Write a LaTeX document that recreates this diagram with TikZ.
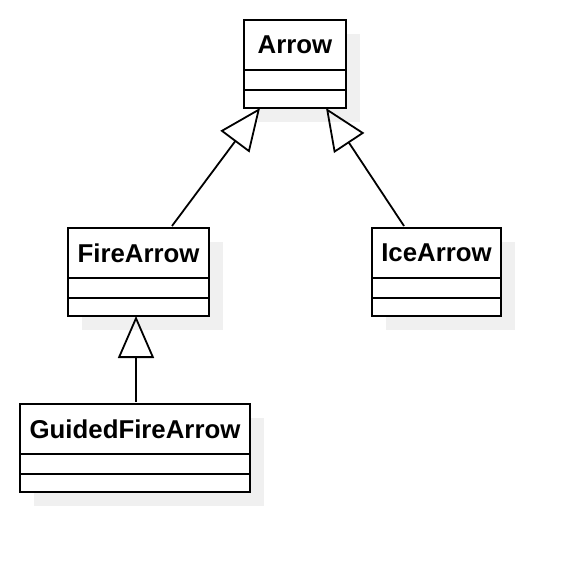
\documentclass[tikz,border=0pt]{standalone}
\usepackage{fontspec}
\setmainfont{Liberation Sans}
\usetikzlibrary{arrows.meta}
\begin{document}
\begin{tikzpicture}[x=1pt,y=-1pt,
  shadowbox/.style={fill=black!6,draw=none},
  head/.style={draw=black,fill=white,line width=2pt,inner sep=0pt,outer sep=0pt,anchor=north west,minimum height=50pt,font=\bfseries\fontsize{25.8}{30}\selectfont},
  comp/.style={draw=black,fill=white,line width=2pt,inner sep=0pt,outer sep=0pt,anchor=north,minimum height=#1},
  inh/.style={line width=1.8pt,-{Triangle[open,length=42pt,width=36pt,line width=1.8pt]}}]
\useasboundingbox (0,0) rectangle (580,572);
% shadows
\fill[shadowbox] (258,34) rectangle (360,122);
\fill[shadowbox] (82,242) rectangle (223,330);
\fill[shadowbox] (386,242) rectangle (515,330);
\fill[shadowbox] (34,418) rectangle (264,506);
% Arrow
\node[head,minimum width=102pt] (arrow) at (244,20) {Arrow};
\node[comp=20pt,minimum width=102pt] (arrowA) at (arrow.south) {};
\node[comp=18pt,minimum width=102pt] (arrowM) at (arrowA.south) {};
% FireArrow
\node[head,minimum width=141pt] (fire) at (68,228) {FireArrow};
\node[comp=20pt,minimum width=141pt] (fireA) at (fire.south) {};
\node[comp=18pt,minimum width=141pt] (fireM) at (fireA.south) {};
% IceArrow
\node[head,minimum width=129pt] (ice) at (372,228) {IceArrow};
\node[comp=20pt,minimum width=129pt] (iceA) at (ice.south) {};
\node[comp=18pt,minimum width=129pt] (iceM) at (iceA.south) {};
% GuidedFireArrow
\node[head,minimum width=230pt] (guided) at (20,404) {GuidedFireArrow};
\node[comp=20pt,minimum width=230pt] (guidedA) at (guided.south) {};
\node[comp=18pt,minimum width=230pt] (guidedM) at (guidedA.south) {};
% inheritance
\draw[inh] ([xshift=104pt,yshift=2pt]fire.north west) -- ([xshift=16pt]arrowM.south west);
\draw[inh] ([xshift=32pt,yshift=2pt]ice.north west) -- ([xshift=-20pt]arrowM.south east);
\draw[inh] ([xshift=-2.5pt,yshift=2pt]guided.north -| fireM.south) -- ([xshift=-2.5pt]fireM.south);
\end{tikzpicture}
\end{document}
